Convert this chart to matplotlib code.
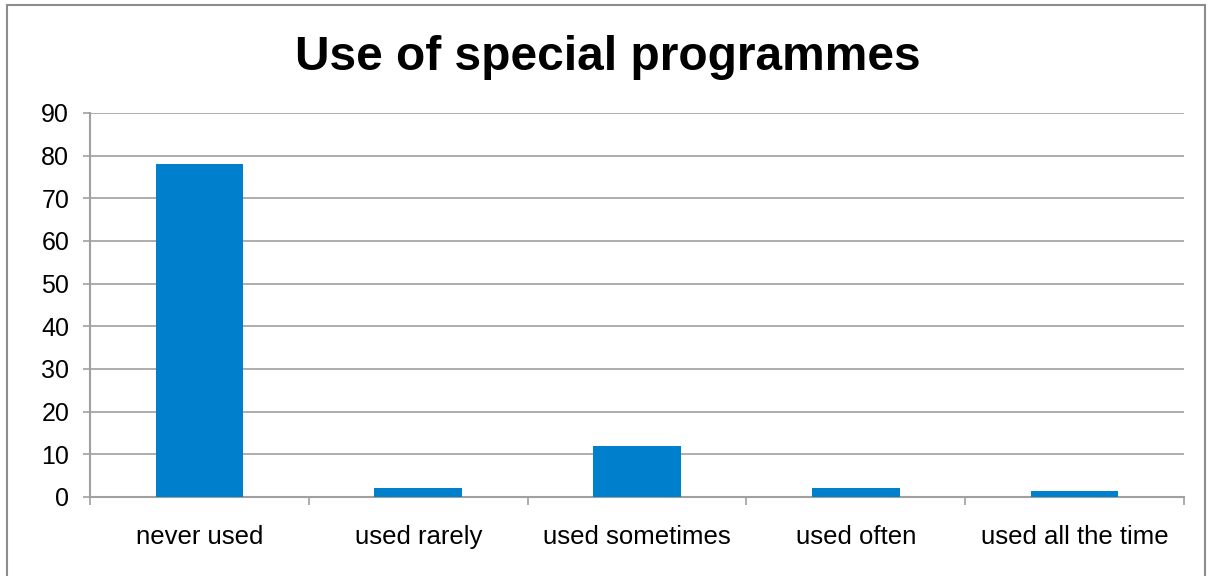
import matplotlib
matplotlib.use("Agg")
import matplotlib.pyplot as plt
from matplotlib.patches import Rectangle

plt.rcParams['font.family'] = ['Liberation Sans', 'DejaVu Sans']

categories = ["never used", "used rarely", "used sometimes", "used often", "used all the time"]
values = [78, 2, 12, 2, 1.5]
yticks = [0, 10, 20, 30, 40, 50, 60, 70, 80, 90]

fig = plt.figure(figsize=(12.08, 5.76), dpi=100)
ax = fig.add_axes([90 / 1208, 1 - 497 / 576, (1184 - 90) / 1208, (497 - 113) / 576])

grid_color = "#a0a0a0"
x = range(len(categories))
ax.bar(x, values, width=0.4, color="#0080cc", zorder=3)

ax.set_xlim(-0.5, len(categories) - 0.5)
ax.set_ylim(0, 90)
ax.set_yticks(yticks)
ax.set_yticklabels([str(v) for v in yticks], fontsize=18)
ax.set_xticks(list(x))
ax.set_xticklabels(categories, fontsize=18.5)
ax.tick_params(axis='x', length=0, pad=20)
ax.tick_params(axis='y', length=5, width=1.2, color=grid_color, pad=10)

# category boundary ticks below the x axis
ax.set_xticks([i - 0.5 for i in range(len(categories) + 1)], minor=True)
ax.tick_params(axis='x', which='minor', length=6, width=1.2, color=grid_color)

ax.yaxis.grid(True, color=grid_color, linewidth=1.2, zorder=0)
for side in ("top", "right"):
    ax.spines[side].set_visible(False)
for side in ("left", "bottom"):
    ax.spines[side].set_color(grid_color)
    ax.spines[side].set_linewidth(1.5)

fig.text(608 / 1208, 1 - 57 / 576, "Use of special programmes", ha="center", va="center",
         fontsize=34.5, fontweight="bold")

# outer chart frame
fig.patches.append(Rectangle((7 / 1208, -0.05), (1205 - 7) / 1208, 1.05 - 5 / 576,
                             transform=fig.transFigure, fill=False,
                             edgecolor="#8c8c8c", linewidth=1.5))

fig.savefig("out.png", dpi=100)
